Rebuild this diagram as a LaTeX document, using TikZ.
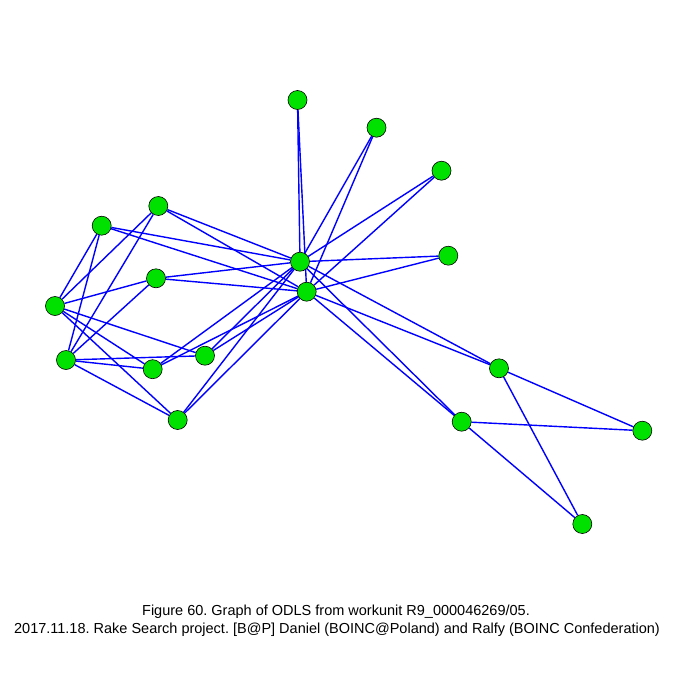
\documentclass[tikz,border=0pt]{standalone}
\usepackage{fontspec}
\setmainfont{Liberation Sans}
\frenchspacing
\usetikzlibrary{backgrounds}
\definecolor{nodegreen}{RGB}{0,225,0}
\definecolor{edgeblue}{RGB}{0,0,255}
\tikzset{
  vtx/.style={circle, draw=black, line width=0.6pt, fill=nodegreen, minimum size=19pt, inner sep=0pt},
  edge/.style={draw=edgeblue, line width=1.4pt},
  capt/.style={font=\fontsize{14.5pt}{17.5pt}\selectfont, inner sep=0pt, anchor=base}
}
\begin{document}
\begin{tikzpicture}[x=1pt,y=-1pt]
\useasboundingbox (0,0) rectangle (675,675);
\node[vtx] (A) at (297.5,100) {};
\node[vtx] (B) at (376.5,127.7) {};
\node[vtx] (C) at (441.5,170.7) {};
\node[vtx] (D) at (158.3,206) {};
\node[vtx] (E) at (101.7,225.7) {};
\node[vtx] (F) at (448.3,255.7) {};
\node[vtx] (G) at (300,261.7) {};
\node[vtx] (H) at (306.7,291.7) {};
\node[vtx] (I) at (156,278.3) {};
\node[vtx] (J) at (55,306) {};
\node[vtx] (K) at (66,360) {};
\node[vtx] (L) at (205,355.7) {};
\node[vtx] (M) at (152.7,369.2) {};
\node[vtx] (N) at (177.7,420) {};
\node[vtx] (O) at (499,368.3) {};
\node[vtx] (P) at (461.7,421.7) {};
\node[vtx] (Q) at (642.3,430.7) {};
\node[vtx] (R) at (582.3,524) {};
\begin{pgfonlayer}{background}
\fill[white] (0,0) rectangle (675,675);
\foreach \s in {A,B,C,F,D,E,I,L,M,N,O,P}{
  \draw[edge] (\s) -- (G);
  \draw[edge] (\s) -- (H);
}
\draw[edge] (O) -- (Q);
\draw[edge] (O) -- (R);
\draw[edge] (P) -- (Q);
\draw[edge] (P) -- (R);
\draw[edge] (D) -- (J);
\draw[edge] (D) -- (K);
\draw[edge] (E) -- (J);
\draw[edge] (E) -- (K);
\draw[edge] (I) -- (J);
\draw[edge] (I) -- (K);
\draw[edge] (J) -- (L);
\draw[edge] (J) -- (M);
\draw[edge] (J) -- (N);
\draw[edge] (K) -- (L);
\draw[edge] (K) -- (M);
\draw[edge] (K) -- (N);
\end{pgfonlayer}
\node[capt] (cap1) at (336,615.5) {Figure 60. Graph of ODLS from workunit R9\_000046269/05.};
\node[capt] (cap2) at (337,633) {2017.11.18. Rake Search project. [B@P] Daniel (BOINC@Poland) and Ralfy (BOINC Confederation)};
\end{tikzpicture}
\end{document}
